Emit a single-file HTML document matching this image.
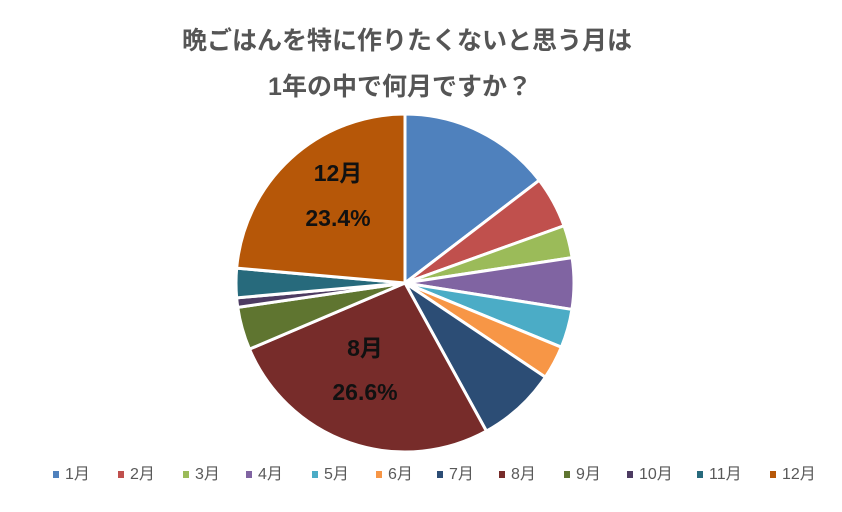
<!DOCTYPE html>
<html><head><meta charset="utf-8"><style>
body{margin:0;background:#fff;width:842px;height:512px;overflow:hidden}
svg{display:block}
text{font-family:"Liberation Sans","Noto Sans CJK JP",sans-serif}
</style></head><body>
<svg id="s" width="842" height="512" viewBox="0 0 842 512">
<text x="407" y="49" text-anchor="middle" font-size="25" font-weight="bold" fill="#555">晩ごはんを特に作りたくないと思う月は</text>
<text x="400" y="95" text-anchor="middle" font-size="25" font-weight="bold" fill="#555">1年の中で何月ですか？</text>
<g id="pie"></g>
<g font-size="23" font-weight="bold" fill="#111" text-anchor="middle">
<text x="338" y="181">12月</text>
<text x="338" y="226">23.4%</text>
<text x="365" y="356">8月</text>
<text x="365" y="400">26.6%</text>
</g>
<g id="leg" font-size="16" fill="#595959"></g>
</svg>
<script>
var p=[14.6,4.9,3.1,4.9,3.7,3.2,7.6,26.6,4.1,0.9,2.8,23.6];
var c=["#4f81bd","#c0504d","#9bbb59","#8064a2","#4bacc6","#f79646","#2c4d75","#772c2a","#5f7530","#4d3b62","#276a7c","#b65708"];
var cx=405,cy=283,r=169,a=0,h="";
for(var i=0;i<12;i++){var b=a+p[i]/100*2*Math.PI;
var x1=cx+r*Math.sin(a),y1=cy-r*Math.cos(a),x2=cx+r*Math.sin(b),y2=cy-r*Math.cos(b);
h+='<path d="M'+cx+','+cy+'L'+x1+','+y1+'A'+r+','+r+' 0 '+((b-a)>Math.PI?1:0)+' 1 '+x2+','+y2+'Z" fill="'+c[i]+'" stroke="#fff" stroke-width="3" stroke-linejoin="round"/>';a=b;}
document.getElementById("pie").innerHTML=h;
var lx=[53,118,183,246,312,376,437,499,564,627,697,770],g="";
for(var i=0;i<12;i++){g+='<rect x="'+lx[i]+'" y="471" width="6" height="7" fill="'+c[i]+'"/><text x="'+(lx[i]+12)+'" y="479">'+(i+1)+'月</text>';}
document.getElementById("leg").innerHTML=g;
</script>
</body></html>
